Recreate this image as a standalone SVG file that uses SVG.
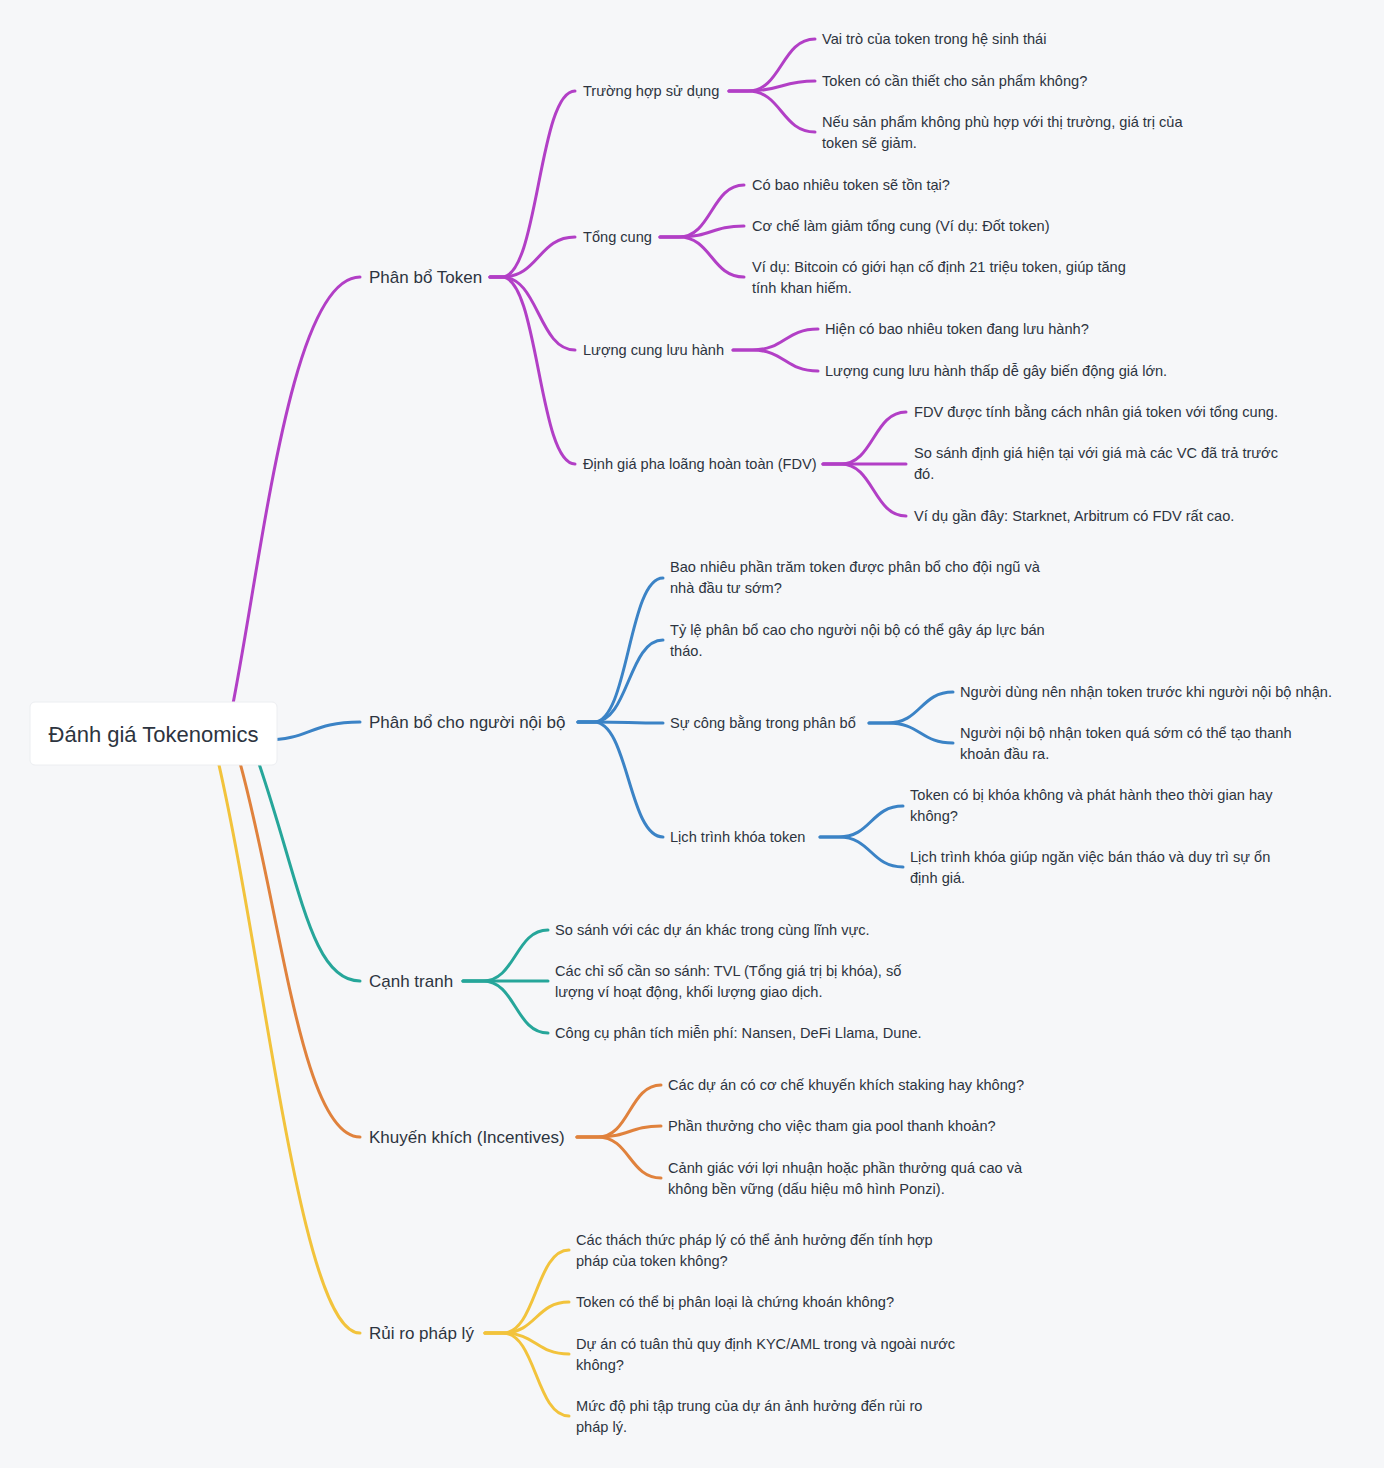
<svg xmlns="http://www.w3.org/2000/svg" width="1384" height="1468" viewBox="0 0 1384 1468">
<style>
.bg{fill:#f6f7f9}
.c{fill:none;stroke-width:3;stroke-linecap:round;stroke-linejoin:round}
.p{stroke:#b23fc6}.b{stroke:#3b83c6}.t{stroke:#26a69a}.o{stroke:#e0823d}.y{stroke:#f2c33c}
text{font-family:"Liberation Sans",Arial,sans-serif;fill:#2d3440}
.r{font-size:22px}
.l1{font-size:17px}
.l2{font-size:14.6px}
</style>
<rect class="bg" x="0" y="0" width="1384" height="1468"/>
<g id="connectors">
<path class="c p" d="M231,714 C262,560 290,277 360,277"/>
<path class="c b" d="M265,740 C310,740 310,722 360,722"/>
<path class="c t" d="M255,752 C300,880 310,981 360,981"/>
<path class="c o" d="M237,752 C280,900 300,1137 360,1137"/>
<path class="c y" d="M216,752 C265,960 300,1333 360,1333"/>
<path class="c p" d="M490,277 L502,277 C538.5,277 538.5,91 575,91"/>
<path class="c p" d="M490,277 L502,277 C538.5,277 538.5,237 575,237"/>
<path class="c p" d="M490,277 L502,277 C538.5,277 538.5,350 575,350"/>
<path class="c p" d="M490,277 L502,277 C538.5,277 538.5,464 575,464"/>
<path class="c p" d="M729,91 L748,91 C781.5,91 781.5,39 815,39"/>
<path class="c p" d="M729,91 L748,91 C781.5,91 781.5,81 815,81"/>
<path class="c p" d="M729,91 L748,91 C781.5,91 781.5,132 815,132"/>
<path class="c p" d="M660,237 L679,237 C711.5,237 711.5,185 744,185"/>
<path class="c p" d="M660,237 L679,237 C711.5,237 711.5,226 744,226"/>
<path class="c p" d="M660,237 L679,237 C711.5,237 711.5,277 744,277"/>
<path class="c p" d="M733,350 L752,350 C785,350 785,329 818,329"/>
<path class="c p" d="M733,350 L752,350 C785,350 785,371 818,371"/>
<path class="c p" d="M823,464 L841,464 C873.5,464 873.5,412 906,412"/>
<path class="c p" d="M823,464 L841,464 C873.5,464 873.5,464 906,464"/>
<path class="c p" d="M823,464 L841,464 C873.5,464 873.5,516 906,516"/>
<path class="c b" d="M578,722 L594,722 C628.5,722 628.5,578 663,578"/>
<path class="c b" d="M578,722 L594,722 C628.5,722 628.5,640 663,640"/>
<path class="c b" d="M578,722 L594,722 C628.5,722 628.5,723 663,723"/>
<path class="c b" d="M578,722 L594,722 C628.5,722 628.5,837 663,837"/>
<path class="c b" d="M869,723 L888,723 C920.5,723 920.5,692 953,692"/>
<path class="c b" d="M869,723 L888,723 C920.5,723 920.5,743 953,743"/>
<path class="c b" d="M820,837 L839,837 C871,837 871,806 903,806"/>
<path class="c b" d="M820,837 L839,837 C871,837 871,867 903,867"/>
<path class="c t" d="M463,981 L483,981 C515.5,981 515.5,930 548,930"/>
<path class="c t" d="M463,981 L483,981 C515.5,981 515.5,981 548,981"/>
<path class="c t" d="M463,981 L483,981 C515.5,981 515.5,1033 548,1033"/>
<path class="c o" d="M577,1137 L598,1137 C629.5,1137 629.5,1085 661,1085"/>
<path class="c o" d="M577,1137 L598,1137 C629.5,1137 629.5,1126 661,1126"/>
<path class="c o" d="M577,1137 L598,1137 C629.5,1137 629.5,1178 661,1178"/>
<path class="c y" d="M485,1333 L503,1333 C536,1333 536,1250 569,1250"/>
<path class="c y" d="M485,1333 L503,1333 C536,1333 536,1302 569,1302"/>
<path class="c y" d="M485,1333 L503,1333 C536,1333 536,1354 569,1354"/>
<path class="c y" d="M485,1333 L503,1333 C536,1333 536,1416 569,1416"/>
</g>
<g id="root">
<rect x="30" y="702" width="247" height="63" rx="5" fill="#ffffff" stroke="#eceef1" stroke-width="1"/>
<text class="r" x="153.5" y="742" text-anchor="middle">Đánh giá Tokenomics</text>
</g>
<g id="n-phan-bo-token"><text class="l1" x="369" y="283">Phân bổ Token</text></g>
<g id="n-truong-hop"><text class="l2" x="583" y="96">Trường hợp sử dụng</text></g>
<g id="n-vai-tro"><text class="l2" x="822" y="44">Vai trò của token trong hệ sinh thái</text></g>
<g id="n-token-can"><text class="l2" x="822" y="86">Token có cần thiết cho sản phẩm không?</text></g>
<g id="n-neu-san-pham"><text class="l2" x="822" y="127">Nếu sản phẩm không phù hợp với thị trường, giá trị của<tspan x="822" y="148">token sẽ giảm.</tspan></text></g>
<g id="n-tong-cung"><text class="l2" x="583" y="242">Tổng cung</text></g>
<g id="n-co-bao-nhieu"><text class="l2" x="752" y="190">Có bao nhiêu token sẽ tồn tại?</text></g>
<g id="n-co-che"><text class="l2" x="752" y="231">Cơ chế làm giảm tổng cung (Ví dụ: Đốt token)</text></g>
<g id="n-bitcoin"><text class="l2" x="752" y="272">Ví dụ: Bitcoin có giới hạn cố định 21 triệu token, giúp tăng<tspan x="752" y="293">tính khan hiếm.</tspan></text></g>
<g id="n-luong-cung"><text class="l2" x="583" y="355">Lượng cung lưu hành</text></g>
<g id="n-hien-co"><text class="l2" x="825" y="334">Hiện có bao nhiêu token đang lưu hành?</text></g>
<g id="n-luong-cung-thap"><text class="l2" x="825" y="376">Lượng cung lưu hành thấp dễ gây biến động giá lớn.</text></g>
<g id="n-fdv"><text class="l2" x="583" y="469">Định giá pha loãng hoàn toàn (FDV)</text></g>
<g id="n-fdv-tinh"><text class="l2" x="914" y="417">FDV được tính bằng cách nhân giá token với tổng cung.</text></g>
<g id="n-so-sanh-dinh-gia"><text class="l2" x="914" y="458">So sánh định giá hiện tại với giá mà các VC đã trả trước<tspan x="914" y="479">đó.</tspan></text></g>
<g id="n-vi-du-gan-day"><text class="l2" x="914" y="521">Ví dụ gần đây: Starknet, Arbitrum có FDV rất cao.</text></g>
<g id="n-noi-bo"><text class="l1" x="369" y="728">Phân bổ cho người nội bộ</text></g>
<g id="n-bao-nhieu-phan-tram"><text class="l2" x="670" y="572">Bao nhiêu phần trăm token được phân bổ cho đội ngũ và<tspan x="670" y="593">nhà đầu tư sớm?</tspan></text></g>
<g id="n-ty-le"><text class="l2" x="670" y="635">Tỷ lệ phân bổ cao cho người nội bộ có thể gây áp lực bán<tspan x="670" y="656">tháo.</tspan></text></g>
<g id="n-cong-bang"><text class="l2" x="670" y="728">Sự công bằng trong phân bổ</text></g>
<g id="n-nguoi-dung"><text class="l2" x="960" y="697">Người dùng nên nhận token trước khi người nội bộ nhận.</text></g>
<g id="n-nguoi-noi-bo"><text class="l2" x="960" y="738">Người nội bộ nhận token quá sớm có thể tạo thanh<tspan x="960" y="759">khoản đầu ra.</tspan></text></g>
<g id="n-lich-trinh"><text class="l2" x="670" y="842">Lịch trình khóa token</text></g>
<g id="n-token-bi-khoa"><text class="l2" x="910" y="800">Token có bị khóa không và phát hành theo thời gian hay<tspan x="910" y="821">không?</tspan></text></g>
<g id="n-lich-trinh-giup"><text class="l2" x="910" y="862">Lịch trình khóa giúp ngăn việc bán tháo và duy trì sự ổn<tspan x="910" y="883">định giá.</tspan></text></g>
<g id="n-canh-tranh"><text class="l1" x="369" y="987">Cạnh tranh</text></g>
<g id="n-so-sanh"><text class="l2" x="555" y="935">So sánh với các dự án khác trong cùng lĩnh vực.</text></g>
<g id="n-chi-so"><text class="l2" x="555" y="976">Các chỉ số cần so sánh: TVL (Tổng giá trị bị khóa), số<tspan x="555" y="997">lượng ví hoạt động, khối lượng giao dịch.</tspan></text></g>
<g id="n-cong-cu"><text class="l2" x="555" y="1038">Công cụ phân tích miễn phí: Nansen, DeFi Llama, Dune.</text></g>
<g id="n-khuyen-khich"><text class="l1" x="369" y="1143">Khuyến khích (Incentives)</text></g>
<g id="n-staking"><text class="l2" x="668" y="1090">Các dự án có cơ chế khuyến khích staking hay không?</text></g>
<g id="n-phan-thuong"><text class="l2" x="668" y="1131">Phần thưởng cho việc tham gia pool thanh khoản?</text></g>
<g id="n-canh-giac"><text class="l2" x="668" y="1173">Cảnh giác với lợi nhuận hoặc phần thưởng quá cao và<tspan x="668" y="1194">không bền vững (dấu hiệu mô hình Ponzi).</tspan></text></g>
<g id="n-rui-ro"><text class="l1" x="369" y="1339">Rủi ro pháp lý</text></g>
<g id="n-thach-thuc"><text class="l2" x="576" y="1245">Các thách thức pháp lý có thể ảnh hưởng đến tính hợp<tspan x="576" y="1266">pháp của token không?</tspan></text></g>
<g id="n-chung-khoan"><text class="l2" x="576" y="1307">Token có thể bị phân loại là chứng khoán không?</text></g>
<g id="n-kyc"><text class="l2" x="576" y="1349">Dự án có tuân thủ quy định KYC/AML trong và ngoài nước<tspan x="576" y="1370">không?</tspan></text></g>
<g id="n-phi-tap-trung"><text class="l2" x="576" y="1411">Mức độ phi tập trung của dự án ảnh hưởng đến rủi ro<tspan x="576" y="1432">pháp lý.</tspan></text></g>
</svg>
